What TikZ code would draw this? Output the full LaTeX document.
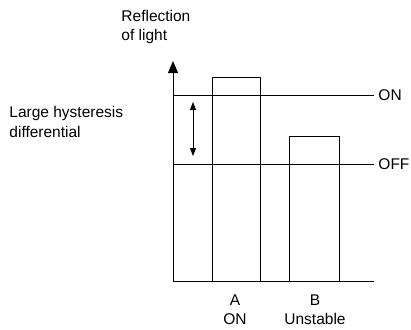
\documentclass[tikz,border=0pt]{standalone}
\usepackage{fontspec}
\setmainfont{Liberation Sans}
\usetikzlibrary{arrows.meta}

\begin{document}
\begin{tikzpicture}[line cap=butt,line join=miter,x=1pt,y=-1pt,
    line width=0.9pt,
    txt/.style={inner sep=0pt,font=\fontsize{15.5}{19.5}\selectfont,align=left},
    bar/.style={draw,line width=0.9pt}]
	\useasboundingbox (0,0) rectangle (411,329);
	% axes
	\coordinate (O) at (173,281.5);
	\coordinate (ytop) at (173,61);
	\coordinate (xend) at (374,281.5);
	\draw[-{Triangle[length=12pt,width=10pt]}] (O) -- (ytop);
	\draw (O) -- (xend);
	% thresholds
	\coordinate (onL) at (173,95);
	\coordinate (onR) at (374,95);
	\coordinate (offL) at (173,164);
	\coordinate (offR) at (374,164);
	\draw (onL) -- (onR);
	\draw (offL) -- (offR);
	\node[txt,anchor=west] (on) at (378,95) {ON};
	\node[txt,anchor=west] (off) at (378,164) {OFF};
	% bars
	\draw[bar] (212,281.5) rectangle (260,77);
	\draw[bar] (289,281.5) rectangle (339,136);
	% hysteresis arrow
	\coordinate (hyTop) at (193,102);
	\coordinate (hyBot) at (193,156);
	\draw[{Triangle[length=8pt,width=6pt]}-{Triangle[length=8pt,width=6pt]}] (hyTop) -- (hyBot);
	% labels
	\node[txt,anchor=west] (refl) at (121,27) {Reflection\\of light};
	\node[txt,anchor=west] (hyst) at (9,122) {Large hysteresis\\differential};
	\node[txt,align=center] (lblA) at (235,309.5) {A\\ON};
	\node[txt,align=center] (lblB) at (315,309.5) {B\\Unstable};
\end{tikzpicture}
\end{document}
